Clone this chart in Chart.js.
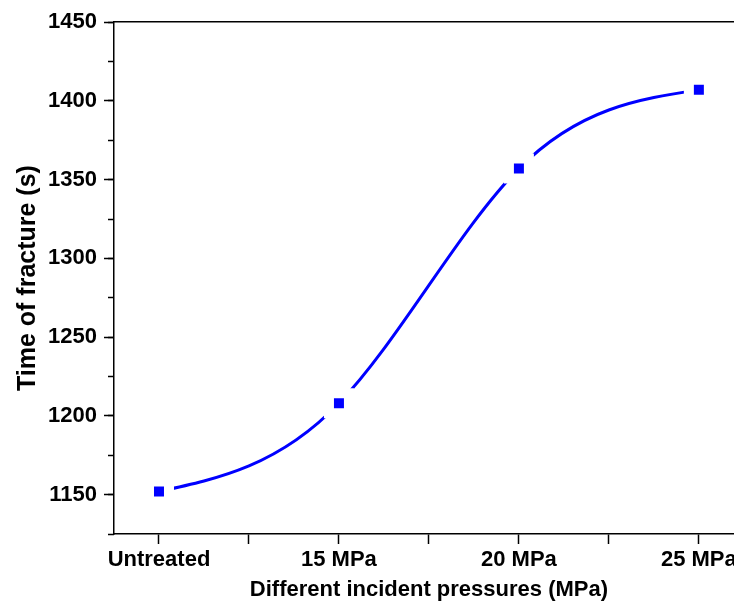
<!DOCTYPE html>
<html lang="en">
<head>
  <meta charset="UTF-8" />
  <title>Time of fracture</title>
  <style>
    html, body { margin: 0; padding: 0; background: #ffffff; }
    #wrap { width: 734px; height: 610px; overflow: hidden; }
    canvas { display: block; margin-top: -2px; }
  </style>
</head>
<body>
  <div id="wrap">
    <canvas id="chart" width="768" height="612"></canvas>
  </div>
  <script src="https://cdn.jsdelivr.net/npm/chart.js"></script>
  <script>
    const categories = ['Untreated', '15 MPa', '20 MPa', '25 MPa'];
    const fractureTimes = [1152, 1208, 1357, 1407];
    const xTickValues = [0, 0.5, 1, 1.5, 2, 2.5, 3];
    const yRange = [1125, 1450];

    const family = '"Liberation Sans", Arial, sans-serif';
    const font = { family, size: 22, weight: 'bold' };
    const ink = '#000000';

    const points = categories.map((c, i) => ({ x: i, y: fractureTimes[i] }));

    // natural cubic spline through the point pixels (Origin style) -> bezier control points
    const naturalSpline = {
      id: 'naturalSpline',
      beforeDatasetDraw(chart, args) {
        const els = args.meta.data;
        const n = els.length - 1;
        if (n < 1) return;
        const xs = els.map(p => p.x), ys = els.map(p => p.y);
        const h = [], d = [];
        for (let i = 0; i < n; i += 1) {
          h.push(xs[i + 1] - xs[i]);
          d.push((ys[i + 1] - ys[i]) / h[i]);
        }
        // second derivatives, M0 = Mn = 0
        const M = new Array(n + 1).fill(0);
        if (n > 1) {
          const a = [], b = [], c = [], r = [];
          for (let i = 1; i < n; i += 1) {
            a.push(h[i - 1]); b.push(2 * (h[i - 1] + h[i])); c.push(h[i]);
            r.push(6 * (d[i] - d[i - 1]));
          }
          for (let i = 1; i < b.length; i += 1) {
            const w = a[i] / b[i - 1];
            b[i] -= w * c[i - 1];
            r[i] -= w * r[i - 1];
          }
          const sol = new Array(b.length);
          for (let i = b.length - 1; i >= 0; i -= 1) {
            sol[i] = (r[i] - (i < b.length - 1 ? c[i] * sol[i + 1] : 0)) / b[i];
          }
          sol.forEach((v, i) => { M[i + 1] = v; });
        }
        const slope = els.map((p, i) => (i < n
          ? d[i] - h[i] * (2 * M[i] + M[i + 1]) / 6
          : d[n - 1] + h[n - 1] * (M[n - 1] + 2 * M[n]) / 6));
        els.forEach((p, i) => {
          const hl = i > 0 ? h[i - 1] / 3 : 0;
          const hr = i < n ? h[i] / 3 : 0;
          p.cp1x = p.x - hl; p.cp1y = p.y - slope[i] * hl;
          p.cp2x = p.x + hr; p.cp2y = p.y + slope[i] * hr;
        });
        args.meta.dataset._pointsUpdated = true;
        delete args.meta.dataset._path;
      }
    };

    const noPad = s => { s.paddingLeft = 0; s.paddingRight = 0; s.paddingTop = 0; s.paddingBottom = 0; };

    new Chart(document.getElementById('chart').getContext('2d'), {
      type: 'line',
      data: {
        datasets: [{
          data: points,
          borderColor: '#0000ff',
          borderWidth: 3,
          tension: 0.4,
          pointStyle: 'rect',
          pointRadius: 14.14,
          pointHoverRadius: 14.14,
          pointBackgroundColor: '#0000ff',
          pointBorderColor: '#ffffff',
          pointBorderWidth: 10,
          clip: false
        }]
      },
      plugins: [naturalSpline],
      options: {
        responsive: false,
        animation: false,
        layout: { padding: { top: 24, right: 24, left: 0, bottom: 0 } },
        plugins: { legend: { display: false }, tooltip: { enabled: false } },
        scales: {
          x: {
            type: 'linear',
            position: 'bottom',
            min: -0.25,
            max: 3.25,
            afterBuildTicks: s => { s.ticks = xTickValues.map(v => ({ value: v })); },
            afterFit: s => { s.height = 76; noPad(s); },
            ticks: {
              color: ink,
              font,
              padding: 3,
              maxRotation: 0,
              autoSkip: false,
              callback: v => (Number.isInteger(v) ? categories[v] : '')
            },
            grid: { drawOnChartArea: false, tickLength: 10, tickWidth: 1.5, color: ink },
            border: { display: true, color: ink, width: 1.5 },
            title: { display: true, text: 'Different incident pressures (MPa)', color: ink, font, padding: { top: 0, bottom: 7 } }
          },
          xTop: {
            type: 'linear',
            position: 'top',
            min: -0.25,
            max: 3.25,
            afterFit: s => { s.height = 0; noPad(s); },
            ticks: { display: false },
            grid: { display: false },
            border: { display: true, color: ink, width: 1.5 }
          },
          y: {
            type: 'linear',
            position: 'left',
            min: yRange[0],
            max: yRange[1],
            weight: 1,
            afterFit: s => { s.width = 114; noPad(s); },
            ticks: { stepSize: 50, includeBounds: false, color: ink, font, padding: 7, callback: v => String(v) },
            grid: { drawOnChartArea: false, tickLength: 10, tickWidth: 1.5, color: ink },
            border: { display: true, color: ink, width: 1.5 },
            title: { display: true, text: 'Time of fracture (s)', color: ink, font: { family, size: 25, weight: 'bold' }, padding: { top: 13, bottom: 0 } }
          },
          yMinor: {
            type: 'linear',
            position: 'left',
            min: yRange[0],
            max: yRange[1],
            weight: -1,
            afterFit: s => { s.width = 0; noPad(s); },
            ticks: { stepSize: 25, display: false },
            grid: { drawOnChartArea: false, tickLength: 6, tickWidth: 1.5, color: ink },
            border: { display: false }
          }
        }
      }
    });
  </script>
</body>
</html>
